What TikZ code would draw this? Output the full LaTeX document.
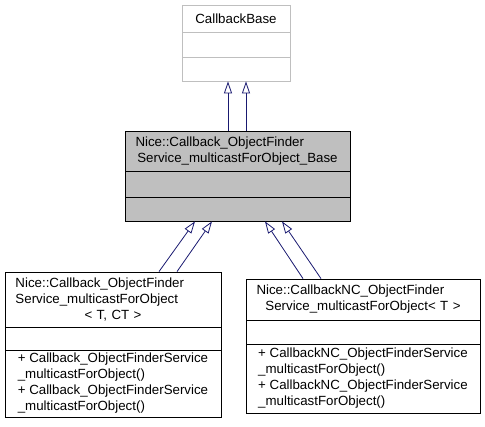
\documentclass[tikz,border=0pt]{standalone}
\usepackage{fontspec}
\setmainfont{Liberation Sans}
\usepackage{xcolor}
\usetikzlibrary{arrows.meta}

\definecolor{edgeblue}{HTML}{191970}
\definecolor{grey75}{HTML}{BFBFBF}

% a line of a class name that sits flush left, the rest is centred
\newcommand{\firstline}[1]{\makebox[\hsize][l]{#1}}

\begin{document}
\begin{tikzpicture}[x=1pt, y=-1pt,
    part/.style={draw, line width=0.8pt, inner sep=0pt,
      font=\fontsize{13.3}{16}\selectfont},
    title/.style={part, align=center, text width=#1},
    ghost/.style={part, draw=grey75},
    shaded/.style={part, fill=grey75},
    inherit/.style={draw=edgeblue, line width=0.8pt,
      -{Triangle[open, fill=white, length=12pt, width=8pt]}}
    ]
    \useasboundingbox (0,0) rectangle (485,427);

    % CallbackBase
    \node[ghost, minimum width=108, minimum height=27] (cb) at (236,18.5) {CallbackBase};
    \node[ghost, minimum width=108, minimum height=25] (cbA) at (236,44.5) {};
    \node[ghost, minimum width=108, minimum height=24] (cbO) at (236,69) {};

    % Callback_ObjectFinderService_multicastForObject_Base
    \node[shaded, title=204pt, minimum width=225, minimum height=40] (base) at (237.5,151)
      {\firstline{Nice::Callback\_ObjectFinder}\\Service\_multicastForObject\_Base};
    \node[shaded, minimum width=225, minimum height=26] (baseA) at (237.5,184) {};
    \node[shaded, minimum width=225, minimum height=24] (baseO) at (237.5,209) {};

    % Callback_ObjectFinderService_multicastForObject< T, CT >
    \node[title=195pt, minimum width=216, minimum height=55] (tco) at (113,299.5)
      {\firstline{Nice::Callback\_ObjectFinder}\\\firstline{Service\_multicastForObject}\\{<} T, CT {>}};
    \node[part, minimum width=216, minimum height=23] (tcoA) at (113,338.5) {};
    \node[part, minimum width=216, minimum height=67, align=left] (tcoO) at (113,383.5)
      {+ Callback\_ObjectFinderService\\\_multicastForObject()\\+ Callback\_ObjectFinderService\\\_multicastForObject()};

    % CallbackNC_ObjectFinderService_multicastForObject< T >
    \node[title=213pt, minimum width=234, minimum height=41] (tnc) at (363,299.5)
      {\firstline{Nice::CallbackNC\_ObjectFinder}\\Service\_multicastForObject{<} T {>}};
    \node[part, minimum width=234, minimum height=24] (tncA) at (363,332) {};
    \node[part, minimum width=234, minimum height=69, align=left] (tncO) at (363,378.5)
      {+ CallbackNC\_ObjectFinderService\\\_multicastForObject()\\+ CallbackNC\_ObjectFinderService\\\_multicastForObject()};

    % inheritance
    \draw[inherit] ([xshift=-9.5]base.north) -- ([xshift=-8]cbO.south);
    \draw[inherit] ([xshift=8.5]base.north) -- ([xshift=10]cbO.south);
    \draw[inherit] ([xshift=46]tco.north) -- ([xshift=-42.5]baseO.south);
    \draw[inherit] ([xshift=64]tco.north) -- ([xshift=-25.5]baseO.south);
    \draw[inherit] ([xshift=-60]tnc.north) -- ([xshift=27.5]baseO.south);
    \draw[inherit] ([xshift=-42]tnc.north) -- ([xshift=44.5]baseO.south);
\end{tikzpicture}
\end{document}
